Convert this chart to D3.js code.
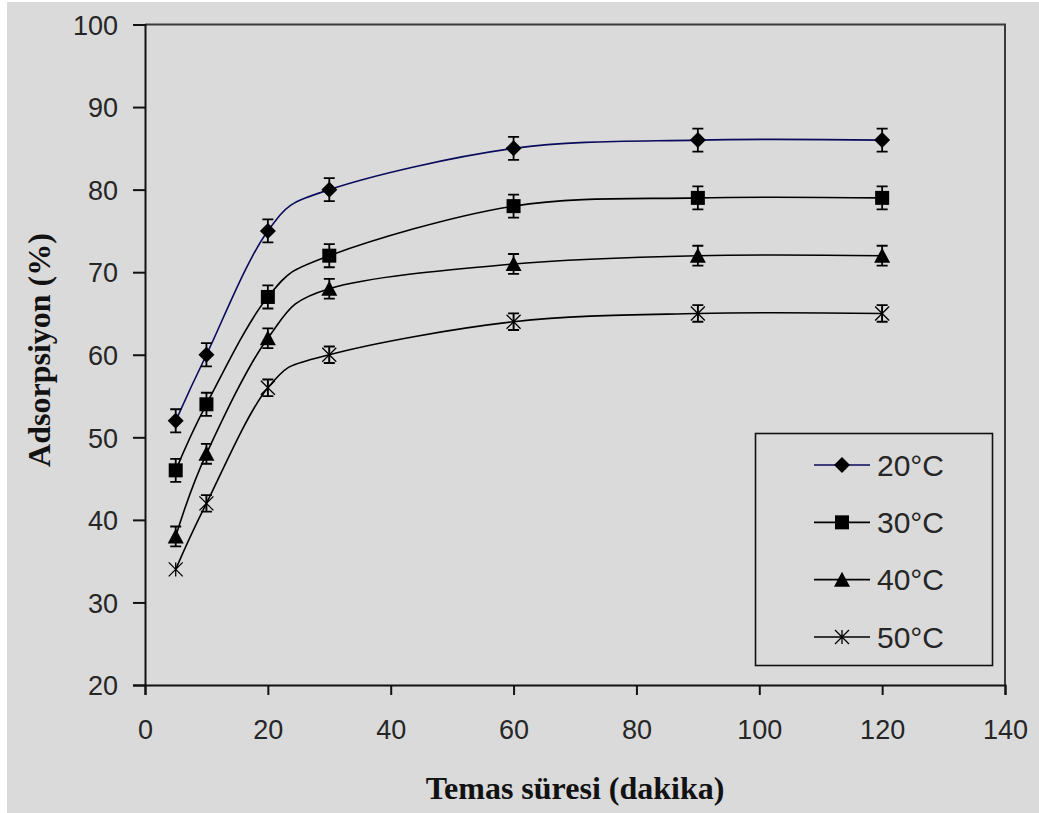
<!DOCTYPE html>
<html>
<head>
<meta charset="utf-8">
<script src="https://cdn.jsdelivr.net/npm/d3@7"></script>
<style>
  html, body { margin: 0; padding: 0; background: #ffffff; }
  svg { display: block; }
</style>
</head>
<body>
<svg id="chart" width="1039" height="813"></svg>
<script>
// Contact time (minutes)
const times = [5, 10, 20, 30, 60, 90, 120];

// Adsorption (%) at each temperature
const seriesNames = ["20°C", "30°C", "40°C", "50°C"];
const ads20 = [52, 60, 75, 80, 85, 86, 86];
const ads30 = [46, 54, 67, 72, 78, 79, 79];
const ads40 = [38, 48, 62, 68, 71, 72, 72];
const ads50 = [34, 42, 56, 60, 64, 65, 65];

// Error bar half-widths (%)
const err20 = [1.4, 1.4, 1.4, 1.4, 1.4, 1.4, 1.4];
const err30 = [1.4, 1.4, 1.4, 1.4, 1.4, 1.4, 1.4];
const err40 = [1.2, 1.2, 1.2, 1.2, 1.2, 1.2, 1.2];
const err50 = [0, 1.0, 1.0, 1.0, 1.0, 1.0, 1.0];

// Axis ticks
const xTicks = [0, 20, 40, 60, 80, 100, 120, 140];
const yTicks = [20, 30, 40, 50, 60, 70, 80, 90, 100];

const markerKinds = ["diamond", "square", "triangle", "star"];
const lineColors = ["#0a0a5c", "#000000", "#000000", "#000000"];

const series = seriesNames.map((name, i) => ({
  name,
  values: [ads20, ads30, ads40, ads50][i],
  errors: [err20, err30, err40, err50][i],
  marker: markerKinds[i],
  color: lineColors[i]
}));

const svg = d3.select("#chart");
const W = 1039, H = 813;
const bg = "#dadada";

// Chart area background
svg.append("rect").attr("x", 7).attr("y", 2).attr("width", W - 7).attr("height", H - 2).attr("fill", bg);

const x = d3.scaleLinear().domain([0, 140]).range([145, 1005]);
const y = d3.scaleLinear().domain([20, 100]).range([685, 24.5]);

const tickFont = "'Liberation Sans', Arial, sans-serif";
const titleFont = "'Liberation Serif', 'Times New Roman', serif";

// Plot frame (top and right edges)
svg.append("path")
  .attr("d", `M${x(0)},${y(100)}H${x(140)}V${y(20)}`)
  .attr("fill", "none").attr("stroke", "#3a3a3a").attr("stroke-width", 2);

// Y axis
const yAxis = svg.append("g")
  .attr("transform", `translate(${x(0)},0)`)
  .call(d3.axisLeft(y).tickValues(yTicks).tickSize(12).tickPadding(15).tickFormat(d3.format("d")));
// X axis
const xAxis = svg.append("g")
  .attr("transform", `translate(0,${y(20)})`)
  .call(d3.axisBottom(x).tickValues(xTicks).tickSize(10).tickPadding(28).tickFormat(d3.format("d")));

[yAxis, xAxis].forEach(g => {
  g.select(".domain").attr("stroke", "#111").attr("stroke-width", 2);
  g.selectAll(".tick line").attr("stroke", "#111").attr("stroke-width", 2);
  g.selectAll(".tick text")
    .attr("fill", "#262626")
    .style("font-family", tickFont)
    .style("font-size", "27px");
});
yAxis.selectAll(".tick text").attr("dy", "0.36em");
xAxis.selectAll(".tick text").attr("dy", "0.6em");

// Axis titles
svg.append("text")
  .attr("x", 575).attr("y", 799)
  .attr("text-anchor", "middle")
  .style("font-family", titleFont)
  .style("font-weight", "bold").style("font-size", "32px")
  .attr("fill", "#121212")
  .text("Temas süresi (dakika)");

svg.append("text")
  .attr("transform", "translate(50,350) rotate(-90)")
  .attr("text-anchor", "middle")
  .style("font-family", titleFont)
  .style("font-weight", "bold").style("font-size", "32px")
  .attr("fill", "#121212")
  .text("Adsorpsiyon (%)");

// Marker drawing
function drawMarker(g, kind, cx, cy) {
  if (kind === "diamond") {
    const r = 8;
    g.append("path").attr("d", `M${cx},${cy - r}L${cx + r},${cy}L${cx},${cy + r}L${cx - r},${cy}Z`).attr("fill", "#000");
  } else if (kind === "square") {
    const r = 7;
    g.append("rect").attr("x", cx - r).attr("y", cy - r).attr("width", 2 * r).attr("height", 2 * r).attr("fill", "#000");
  } else if (kind === "triangle") {
    const r = 8;
    g.append("path").attr("d", `M${cx},${cy - r}L${cx + r},${cy + r - 1}L${cx - r},${cy + r - 1}Z`).attr("fill", "#000");
  } else {
    const r = 7;
    g.append("path")
      .attr("d", `M${cx - r},${cy - r}L${cx + r},${cy + r}M${cx - r},${cy + r}L${cx + r},${cy - r}M${cx},${cy - r}V${cy + r}`)
      .attr("stroke", "#000").attr("stroke-width", 1.3).attr("fill", "none");
  }
}

// Smoothed series lines
const line = d3.line()
  .x((d, i) => x(times[i]))
  .y(d => y(d))
  .curve(d3.curveCardinal.tension(0));

const plot = svg.append("g");
series.forEach(s => {
  plot.append("path")
    .datum(s.values)
    .attr("d", line)
    .attr("fill", "none")
    .attr("stroke", s.color)
    .attr("stroke-width", 1.6);
});

// Error bars and markers
series.forEach(s => {
  const g = plot.append("g");
  s.values.forEach((v, i) => {
    const cx = x(times[i]);
    const e = s.errors[i];
    if (e > 0) {
      const y0 = y(v - e), y1 = y(v + e);
      g.append("path")
        .attr("d", `M${cx},${y0}V${y1}M${cx - 5.5},${y0}H${cx + 5.5}M${cx - 5.5},${y1}H${cx + 5.5}`)
        .attr("stroke", "#000").attr("stroke-width", 1.8).attr("fill", "none");
    }
    drawMarker(g, s.marker, cx, y(v));
  });
});

// Legend
const legend = svg.append("g");
legend.append("rect")
  .attr("x", 755.5).attr("y", 433.5).attr("width", 237).attr("height", 232)
  .attr("fill", "none").attr("stroke", "#111").attr("stroke-width", 1.6);

const legendRowY = d3.scalePoint().domain(seriesNames).range([465, 637]);
series.forEach(s => {
  const ly = legendRowY(s.name);
  legend.append("line")
    .attr("x1", 814).attr("x2", 870).attr("y1", ly).attr("y2", ly)
    .attr("stroke", s.color).attr("stroke-width", 1.6);
  drawMarker(legend, s.marker, 842, ly);
  legend.append("text")
    .attr("x", 877).attr("y", ly).attr("dy", "0.36em")
    .style("font-family", tickFont).style("font-size", "30px")
    .attr("fill", "#262626")
    .text(s.name);
});
</script>
</body>
</html>
